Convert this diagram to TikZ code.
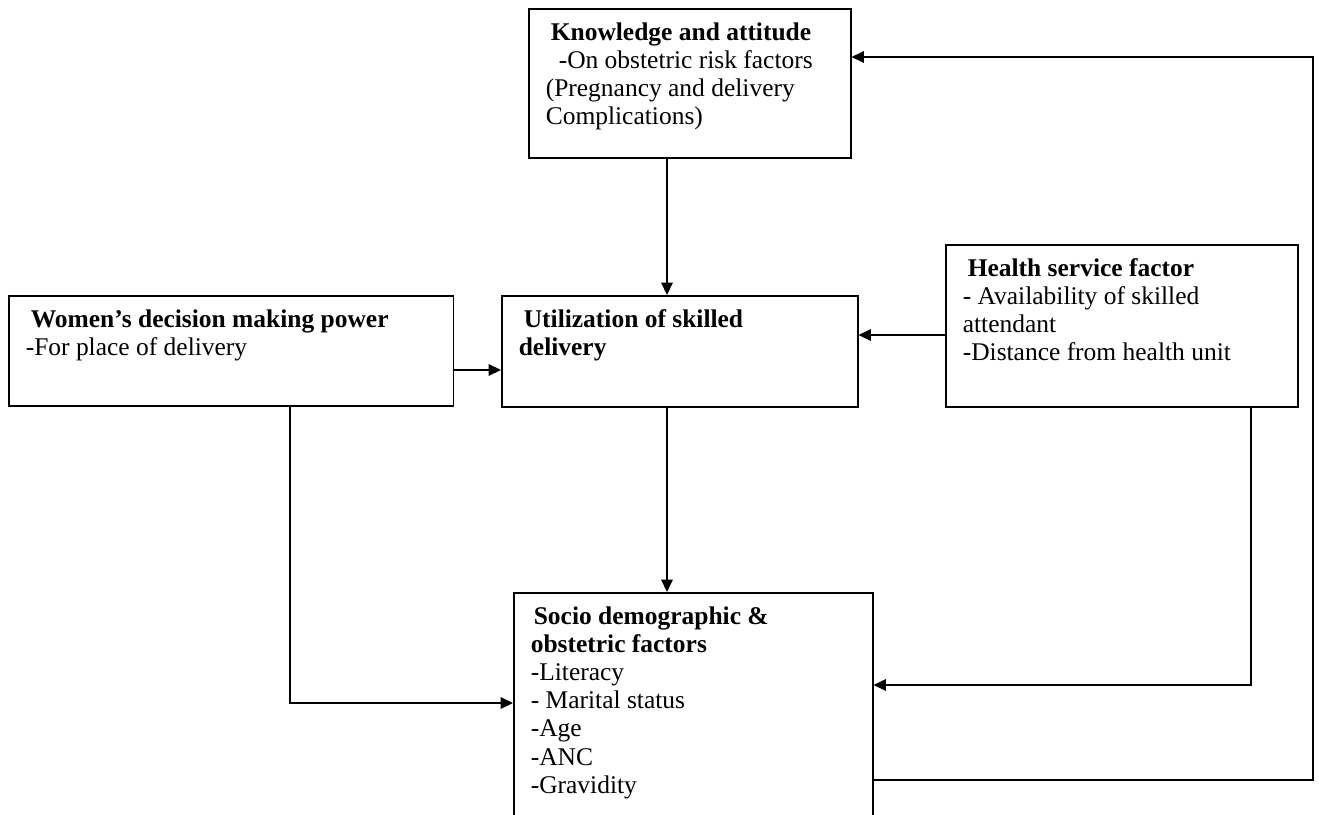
\documentclass[tikz,border=0pt]{standalone}
\usepackage{fontspec}
\setmainfont{Liberation Serif}
\usetikzlibrary{arrows.meta}
\newcommand{\boxtext}[3]{\parbox[t][#2][t]{#1}{\raggedright\strut#3}}

\begin{document}
\begin{tikzpicture}
[
x=0.02cm, y=-0.02cm,
box-a/.style={draw, line width=0.9pt, anchor=north west, inner xsep=0.34cm, inner ysep=0.24cm, font=\fontsize{14.5}{16}\selectfont},
arrow-a/.style={line width=0.9pt, -{Triangle[length=7pt,width=6.5pt]}},
]
\useasboundingbox (0,0) rectangle (1319,815);
\node (know)   [box-a] at (528,8)   {\boxtext{5.76cm}{2.5cm}{\hspace*{0.1cm}\textbf{Knowledge and attitude}\\ \hspace*{0.26cm}-On obstetric risk  factors\\ (Pregnancy and delivery\\ Complications)}};
\node (women)  [box-a] at (8,295)   {\boxtext{8.22cm}{1.72cm}{\hspace*{0.1cm}\textbf{Women’s decision making power}\\ -For place of delivery}};
\node (util)   [box-a] at (501,295) {\boxtext{6.44cm}{1.74cm}{\hspace*{0.1cm}\textbf{Utilization of skilled}\\ \textbf{delivery}}};
\node (health) [box-a] at (945,244) {\boxtext{6.36cm}{2.76cm}{\hspace*{0.1cm}\textbf{Health service factor}\\ - Availability of skilled\\ attendant\\ -Distance from health unit}};
\node (socio)  [box-a] at (513,592) {\boxtext{6.5cm}{4.02cm}{\hspace*{0.06cm}\textbf{Socio demographic \&}\\ \textbf{obstetric factors}\\ -Literacy\\ - Marital status\\ -Age\\ -ANC\\ -Gravidity}};
% bend points
\coordinate (x1) at (667,0);
\coordinate (y1) at (0,370);
\coordinate (y2) at (0,335);
\coordinate (c1) at (290,703);
\coordinate (c2) at (1251,685);
\coordinate (c3) at (1313,780);
\coordinate (c4) at (1313,57);
\draw [arrow-a] (know.south -| x1) -- (util.north -| x1);
\draw [arrow-a] (women.east |- y1) -- (util.west |- y1);
\draw [arrow-a] (health.west |- y2) -- (util.east |- y2);
\draw [arrow-a] (util.south -| x1) -- (socio.north -| x1);
\draw [arrow-a] (women.south -| c1) |- (socio.west |- c1);
\draw [arrow-a] (health.south -| c2) |- (socio.east |- c2);
\draw [arrow-a] (socio.east |- c3) -- (c3) -- (c4) -- (know.east |- c4);
\end{tikzpicture}
\end{document}
